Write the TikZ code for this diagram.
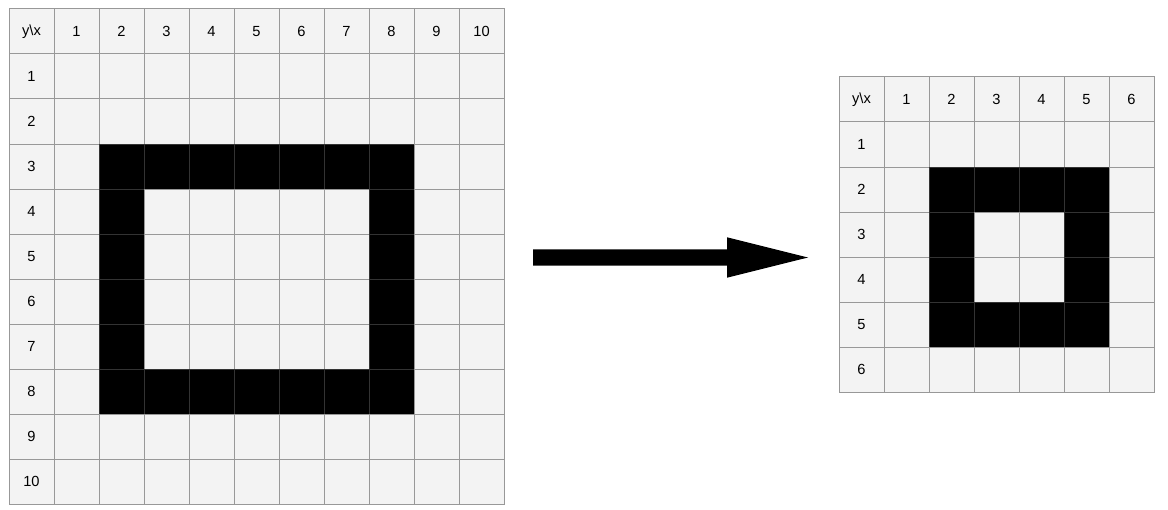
\documentclass[tikz,border=0pt]{standalone}
\usepackage{fontspec}
\setmainfont{Liberation Sans}
\definecolor{gridgray}{HTML}{989898}
\definecolor{cellfill}{HTML}{F3F3F3}
\begin{document}
\begin{tikzpicture}[x=0.75pt,y=-0.75pt,
  cell/.style={draw=gridgray, fill=cellfill, line width=0.75pt, minimum size=33.75pt, inner sep=0pt, font=\fontsize{11pt}{13pt}\selectfont},
  oncell/.style={fill=black, draw=black!80},
  bigarrow/.style={fill=black}]
\useasboundingbox (0,0) rectangle (1168,510);
% left grid
\foreach \r in {0,...,10}{
  \foreach \c in {0,...,10}{
    \pgfmathtruncatemacro\isblack{(\r>=3)&&(\r<=8)&&(\c>=2)&&(\c<=8)&&((\r==3)||(\r==8)||(\c==2)||(\c==8))}
    \ifnum\r=0 \ifnum\c=0 \def\txt{y\textbackslash x}\else\edef\txt{\c}\fi\else\ifnum\c=0 \edef\txt{\r}\else\def\txt{}\fi\fi
    \ifnum\isblack=1
      \node[cell,oncell] (L-\r-\c) at ({9+45*\c+22.5},{9+45*\r+22.5}) {\txt};
    \else
      \node[cell] (L-\r-\c) at ({9+45*\c+22.5},{9+45*\r+22.5}) {\txt};
    \fi
  }
}
% right grid
\foreach \r in {0,...,6}{
  \foreach \c in {0,...,6}{
    \pgfmathtruncatemacro\isblack{(\r>=2)&&(\r<=5)&&(\c>=2)&&(\c<=5)&&((\r==2)||(\r==5)||(\c==2)||(\c==5))}
    \ifnum\r=0 \ifnum\c=0 \def\txt{y\textbackslash x}\else\edef\txt{\c}\fi\else\ifnum\c=0 \edef\txt{\r}\else\def\txt{}\fi\fi
    \ifnum\isblack=1
      \node[cell,oncell] (R-\r-\c) at ({839+45*\c+22.5},{77+45*\r+22.5}) {\txt};
    \else
      \node[cell] (R-\r-\c) at ({839+45*\c+22.5},{77+45*\r+22.5}) {\txt};
    \fi
  }
}
\coordinate (arrowstart) at (533,257.5);
\coordinate (arrowend) at (808,257.5);
\fill[bigarrow] (arrowstart) ++(0,-8.2) -- ++(194,0) -- ++(0,-12) -- (arrowend)
  -- ++(-81,20.2) -- ++(0,-12) -- ++(-194,0) -- cycle;
\end{tikzpicture}
\end{document}
